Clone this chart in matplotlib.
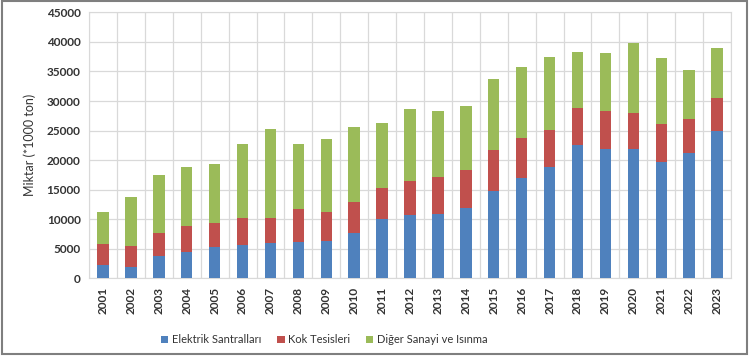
import numpy as np
import matplotlib.pyplot as plt
from matplotlib.patches import Rectangle

plt.rcParams['font.family'] = ['Lato', 'DejaVu Sans']

years = [str(y) for y in range(2001, 2024)]
# values (*1000 ton)
elektrik = [2250, 1970, 3720, 4510, 5240, 5580, 5920, 6200, 6370, 7610,
            10090, 10770, 10820, 11840, 14770, 16970, 18880, 22490, 21930, 21870,
            19730, 21200, 24860]
kok = [3500, 3500, 4000, 4340, 4170, 4680, 4340, 5520, 4900, 5240,
       5240, 5750, 6320, 6430, 6990, 6710, 6200, 6370, 6430, 6150,
       6370, 5740, 5580]
diger = [5410, 8280, 9810, 10030, 9980, 12460, 14990, 11000, 12290, 12740,
         10880, 12120, 11160, 10820, 11950, 12000, 12290, 9420, 9800, 11830,
         11220, 8240, 8510]

c_blue = '#4F81BD'
c_red = '#C0504D'
c_green = '#9BBB59'

fig = plt.figure(figsize=(7.5, 3.57), dpi=100)
ax = fig.add_axes([0.1187, 0.2204, 0.856, 0.745])

x = np.arange(len(years))
e = np.array(elektrik)
k = np.array(kok)
d = np.array(diger)
w = 0.41
ax.bar(x, e, w, color=c_blue, label='Elektrik Santralları', zorder=3)
ax.bar(x, k, w, bottom=e, color=c_red, label='Kok Tesisleri', zorder=3)
ax.bar(x, d, w, bottom=e + k, color=c_green, label='Diğer Sanayi ve Isınma', zorder=3)

ax.set_xlim(-0.5, len(years) - 0.5)
ax.set_ylim(0, 45000)
ax.set_yticks(np.arange(0, 45001, 5000))
ax.set_xticks(x)
ax.set_xticklabels(years, rotation=90, fontsize=8.5, fontweight='bold', color='#333333')
ax.tick_params(axis='y', labelsize=8.5, colors='#333333')
for t in ax.get_yticklabels():
    t.set_fontweight('bold')
ax.tick_params(length=0, pad=6)

# grid: horizontal at ticks, vertical at category boundaries
ax.set_xticks(np.arange(-0.5, len(years), 1), minor=True)
ax.grid(True, which='minor', axis='x', color='#D9D9D9', lw=0.9, zorder=0)
ax.grid(True, which='major', axis='y', color='#D9D9D9', lw=0.9, zorder=0)
ax.tick_params(which='minor', length=0)
for s in ax.spines.values():
    s.set_color('#D9D9D9')

ax.set_ylabel('Miktar (*1000 ton)', fontsize=9, color='#333333', labelpad=8)

fig.legend(loc='center', bbox_to_anchor=(0.432, 0.048), ncol=3, frameon=False,
           fontsize=8, handlelength=0.7, handleheight=0.7, handletextpad=0.3,
           columnspacing=1.4, labelcolor='#333333')

# outer frame
fig.patches.append(Rectangle((0.003, 0.008), 0.993, 0.988, transform=fig.transFigure,
                             fill=False, edgecolor='#7F7F7F', lw=1.5))

fig.savefig('out.png', dpi=100)
